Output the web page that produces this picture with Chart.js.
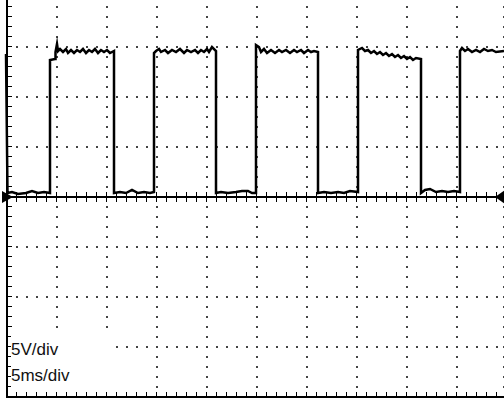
<!DOCTYPE html>
<html>
<head>
<meta charset="utf-8">
<script src="https://cdn.jsdelivr.net/npm/chart.js@4/dist/chart.umd.min.js"></script>
<style>
  body { margin: 0; background: #fff; }
  #wrap { position: relative; width: 504px; height: 401px; overflow: hidden; }
  #scope { position: absolute; left: 0; top: 0; }
  #scaleBox {
    position: absolute; left: 11px; top: 332px; width: 101px; height: 60px;
    background: #fff; color: #111;
    font: 17px 'Liberation Sans', Arial, sans-serif; line-height: 26px;
    padding-top: 5px; box-sizing: border-box;
  }
</style>
</head>
<body>
<div id="wrap">
  <canvas id="scope" width="504" height="401"></canvas>
  <div id="scaleBox"><div id="vdiv"></div><div id="tdiv"></div></div>
</div>
<script>
// trace, time in ms and amplitude in volts (5 V/div, 5 ms/div)
var timeMs = [
  0, 0.15, 0.6, 1.2, 2.0, 2.6, 3.2, 3.8, 4.4,
  4.4, 4.9, 4.95, 5.1, 5.2, 5.4, 5.7, 6.0, 6.2, 6.5, 6.8, 7.1, 7.4, 7.7, 8.0, 8.3, 8.6, 8.9, 9.2, 9.5, 9.8, 10.1, 10.4, 10.8,
  10.8, 11.4, 12.0, 12.6, 13.2, 13.8, 14.4, 14.8,
  14.8, 15.0, 15.3, 15.5, 15.9, 16.2, 16.6, 17.0, 17.4, 17.8, 18.1, 18.5, 18.9, 19.2, 19.5, 19.8, 20.1, 20.3, 20.6, 21.0,
  21.0, 21.5, 22.2, 23.0, 23.6, 24.2, 24.6, 25.0,
  25.0, 25.3, 25.5, 25.8, 26.1, 26.5, 26.9, 27.3, 27.6, 28.0, 28.4, 28.8, 29.1, 29.5, 29.8, 30.2, 30.5, 30.8, 31.2,
  31.2, 31.8, 32.5, 33.2, 33.8, 34.4, 35.2,
  35.2, 35.6, 35.9, 36.2, 36.5, 36.8, 37.1, 37.4, 37.7, 38.0, 38.3, 38.6, 38.9, 39.2, 39.5, 39.8, 40.1, 40.4, 40.7, 41.0, 41.5,
  41.5, 41.9, 42.4, 43.0, 43.6, 44.2, 44.8, 45.4,
  45.4, 45.6, 45.9, 46.2, 46.6, 47.0, 47.4, 47.8, 48.2, 48.6, 49.0, 49.8
];
var volts = [
  14.2, 0.3, 0.4, 0.2, 0.3, 0.5, 0.3, 0.4, 0.3,
  13.6, 13.7, 14.4, 15.2, 14.5, 14.7, 14.4, 14.7, 14.3, 14.6, 14.3, 14.6, 14.4, 14.7, 14.3, 14.6, 14.4, 14.7, 14.3, 14.6, 14.4, 14.6, 14.3, 14.5,
  0.3, 0.4, 0.3, 0.6, 0.3, 0.4, 0.3, 0.4,
  14.3, 14.5, 14.7, 14.4, 14.6, 14.3, 14.6, 14.4, 14.7, 14.3, 14.6, 14.4, 14.6, 14.3, 14.6, 14.4, 14.7, 14.4, 14.9, 14.5,
  0.3, 0.4, 0.3, 0.4, 0.5, 0.5, 0.3, 0.3,
  15.1, 14.9, 14.4, 14.7, 14.3, 14.6, 14.3, 14.6, 14.4, 14.6, 14.3, 14.6, 14.4, 14.6, 14.3, 14.6, 14.4, 14.5, 14.4,
  0.3, 0.4, 0.3, 0.4, 0.3, 0.5, 0.4,
  14.6, 14.8, 14.5, 14.6, 14.3, 14.5, 14.2, 14.4, 14.1, 14.3, 14.0, 14.2, 13.9, 14.1, 13.8, 14.0, 13.7, 13.9, 13.6, 13.8, 13.7,
  0.3, 0.6, 0.7, 0.4, 0.5, 0.4, 0.5, 0.4,
  14.5, 14.8, 14.5, 14.7, 14.4, 14.6, 14.4, 14.7, 14.5, 14.6, 14.4, 14.5
];

// graticule
var gridTimes = [5, 10, 15, 20, 25, 30, 35, 40, 45, 49.7];
var gridVolts = [15, 10, 5, -5, -10, -15];
var voltsLabel = '5V/div';
var timeLabel = '5ms/div';

document.getElementById('vdiv').textContent = voltsLabel;
document.getElementById('tdiv').textContent = timeLabel;

var points = [];
for (var i = 0; i < timeMs.length; i++) {
  points.push({ x: timeMs[i], y: volts[i] });
}

const graticule = {
  id: 'graticule',
  beforeDatasetsDraw(chart) {
    const ctx = chart.ctx;
    const a = chart.chartArea;
    const x = chart.scales.x;
    const y = chart.scales.y;
    ctx.save();
    // dotted lines
    ctx.fillStyle = '#444';
    for (const t of gridTimes) {
      const px = Math.round(x.getPixelForValue(t));
      for (let v = -20; v <= 20; v++) {
        const py = Math.round(y.getPixelForValue(v));
        if (py >= a.top && py < a.bottom) ctx.fillRect(px, py, 2, 2);
      }
    }
    for (const v of gridVolts) {
      const py = Math.round(y.getPixelForValue(v));
      for (let t = 0; t <= 50; t++) {
        const px = Math.round(x.getPixelForValue(t));
        if (px > a.left && px < a.right) ctx.fillRect(px, py, 2, 2);
      }
    }
    // center axis with ticks
    ctx.fillStyle = '#000';
    const y0 = Math.round(y.getPixelForValue(0));
    ctx.fillRect(a.left, y0, a.right - a.left, 2);
    for (let t = 1; t < 50; t++) {
      const px = Math.round(x.getPixelForValue(t));
      ctx.fillRect(px, y0 - 4, 1, 10);
    }
    // left and bottom borders with ticks
    ctx.fillRect(a.left, a.top, 2, a.bottom - a.top + 2);
    for (let v = -19; v <= 19; v++) {
      const py = Math.round(y.getPixelForValue(v));
      ctx.fillRect(a.left + 2, py, 4, 1);
    }
    ctx.fillRect(a.left, a.bottom, a.right - a.left, 2);
    for (let t = 1; t < 50; t++) {
      const px = Math.round(x.getPixelForValue(t));
      ctx.fillRect(px, a.bottom - 4, 1, 4);
    }
    ctx.restore();
  },
  afterDraw(chart) {
    const ctx = chart.ctx;
    const y0 = Math.round(chart.scales.y.getPixelForValue(0)) + 1;
    ctx.save();
    ctx.fillStyle = '#000';
    // ground marker
    ctx.beginPath();
    ctx.moveTo(2, y0 - 6);
    ctx.lineTo(13, y0);
    ctx.lineTo(2, y0 + 6);
    ctx.closePath();
    ctx.fill();
    // trigger marker
    ctx.beginPath();
    ctx.moveTo(505, y0 - 7);
    ctx.lineTo(495, y0);
    ctx.lineTo(505, y0 + 7);
    ctx.closePath();
    ctx.fill();
    ctx.restore();
  }
};

new Chart(document.getElementById('scope'), {
  type: 'line',
  data: {
    datasets: [{
      data: points,
      borderColor: '#000',
      borderWidth: 2.5,
      pointRadius: 0,
      tension: 0,
      fill: false,
      clip: false
    }]
  },
  options: {
    responsive: false,
    animation: false,
    devicePixelRatio: 1,
    layout: { padding: { left: 6, right: 0, top: 0, bottom: 5 } },
    plugins: { legend: { display: false }, tooltip: { enabled: false } },
    scales: {
      x: { type: 'linear', min: 0, max: 49.8, display: false },
      y: { type: 'linear', min: -20, max: 19.6, display: false }
    }
  },
  plugins: [graticule]
});
</script>
</body>
</html>
